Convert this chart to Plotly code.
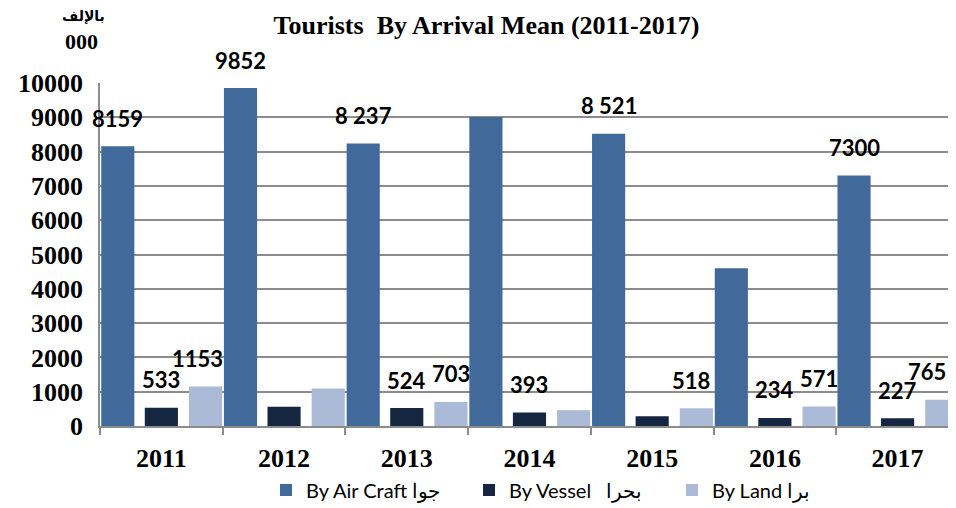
import plotly.graph_objects as go

# ---------------- data ----------------
years = ["2011", "2012", "2013", "2014", "2015", "2016", "2017"]
air = [8159, 9852, 8237, 9010, 8521, 4600, 7300]
vessel = [533, 560, 524, 393, 285, 234, 227]
land = [1153, 1090, 703, 460, 518, 571, 765]

air_labels = ["8159", "9852", "8 237", "", "8 521", "", "7300"]
vessel_labels = ["533", "", "524", "393", "", "234", "227"]
land_labels = ["1153", "", "703", "", "518", "571", "765"]

series_names = ["By Air Craft جوا", "By Vessel\u00a0\u00a0\u00a0بحرا", "By Land برا"]
y_ticks = [0, 1000, 2000, 3000, 4000, 5000, 6000, 7000, 8000, 9000, 10000]
y_tick_text = ["0", "1000", "2000", "3000", "4000", "5000", "6000", "7000", "8000", "9000", "10000"]

title_text = "Tourists  By Arrival Mean (2011-2017)"
unit_ar = "بالإلف"
unit_num = "000"

# ---------------- style ----------------
OFF = 8                      # default body margin of the page
WIN_W, WIN_H = 956, 508
W, H = WIN_W - OFF, WIN_H - OFF
ML, MR, MT, MB = 100 - OFF, 0, 83 - OFF, 82
plot_w = W - ML - MR
plot_h = H - MT - MB
x_range = [-0.5, 6.476]

colors = ["#416999", "#142640", "#AABAD7"]
bar_w = 0.27
offsets = [-0.49, -0.135, 0.225]
label_nudge = {(2, 0): -8, (2, 4): -5, (2, 6): -15}

SERIF = "Liberation Serif, Times New Roman, serif"
SANS = "Lato, Carlito, Calibri, sans-serif"
GRID = "#8C8C8C"


def px_to_paper_x(X):
    return (X - OFF - ML) / plot_w


def px_to_paper_y(Y):
    return (H - MB - (Y - OFF)) / plot_h


fig = go.Figure()
all_vals = [air, vessel, land]
all_labels = [air_labels, vessel_labels, land_labels]
for i, (vals, name) in enumerate(zip(all_vals, series_names)):
    fig.add_bar(
        x=years, y=vals, name=name,
        marker=dict(color=colors[i], line=dict(width=0)),
        width=bar_w, offset=offsets[i],
        hoverinfo="x+y+name",
    )

annotations = []
for i, (vals, labels) in enumerate(zip(all_vals, all_labels)):
    for j, (v, t) in enumerate(zip(vals, labels)):
        if not t:
            continue
        annotations.append(dict(
            x=j + offsets[i] + bar_w / 2, y=v, xref="x", yref="y",
            text=t, showarrow=False,
            xanchor="center", yanchor="middle",
            xshift=label_nudge.get((i, j), 0), yshift=28,
            font=dict(family=SANS, size=22, color="#000000", weight="bold"),
        ))

annotations.append(dict(
    x=px_to_paper_x(83), y=px_to_paper_y(17), xref="paper", yref="paper",
    text=unit_ar, showarrow=False, xanchor="center", yanchor="middle",
    font=dict(family="DejaVu Sans, serif", size=14, color="#000000", weight="bold"),
))
annotations.append(dict(
    x=px_to_paper_x(81), y=px_to_paper_y(41), xref="paper", yref="paper",
    text=unit_num, showarrow=False, xanchor="center", yanchor="middle",
    font=dict(family=SERIF, size=22, color="#000000", weight="bold"),
))

fig.update_layout(
    template="none",
    width=W, height=H,
    margin=dict(l=ML, r=MR, t=MT, b=MB, pad=0, autoexpand=False),
    paper_bgcolor="white", plot_bgcolor="white",
    barmode="overlay",
    title=dict(
        text=title_text, x=(486.5 - OFF) / W, xref="container", xanchor="center",
        y=1 - (25 - OFF) / H, yref="container", yanchor="middle",
        font=dict(family=SERIF, size=26, color="#000000", weight="bold"),
    ),
    xaxis=dict(
        type="category", range=x_range, automargin=False,
        showline=True, linecolor=GRID, linewidth=1.5,
        ticks="outside", tickson="boundaries", ticklen=7, tickcolor=GRID, tickwidth=1.5,
        showgrid=False,
        tickfont=dict(family=SERIF, size=26, color="#000000", weight="bold"),
        ticklabelstandoff=8,
    ),
    yaxis=dict(
        range=[0, 10000], tickvals=y_ticks, ticktext=y_tick_text, automargin=False,
        showline=True, linecolor=GRID, linewidth=1.5,
        showgrid=True, gridcolor=GRID, gridwidth=1.5,
        zeroline=False, ticks="",
        tickfont=dict(family=SERIF, size=26, color="#000000", weight="bold"),
        ticklabelstandoff=10,
    ),
    legend=dict(
        orientation="h", xref="paper", yref="paper",
        x=px_to_paper_x(266), xanchor="left",
        y=px_to_paper_y(490), yanchor="middle",
        entrywidth=158, entrywidthmode="pixels",
        font=dict(family=SANS, size=20, color="#000000"),
        bgcolor="rgba(0,0,0,0)",
    ),
    annotations=annotations,
    showlegend=True,
)

fig.write_html("out.html")
